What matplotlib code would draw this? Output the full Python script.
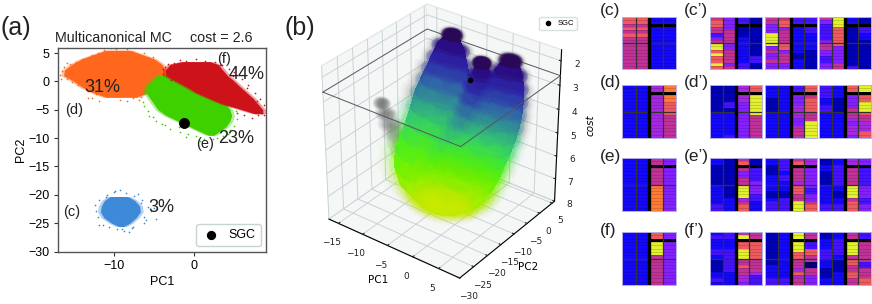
import numpy as np
import matplotlib
matplotlib.use("Agg")
import matplotlib.pyplot as plt
from matplotlib.colors import ListedColormap, LinearSegmentedColormap

plt.rcParams['font.family'] = ['Liberation Sans', 'DejaVu Sans']

W, H = 872, 304

# panel (a): cluster extents, PC2 level -> PC1 from/to
blue_y = [-20.3, -21.0, -22.0, -23.0, -24.0, -25.0, -25.6]
blue_x0 = [-10.5, -11.2, -11.6, -11.7, -11.3, -10.3, -9.4]
blue_x1 = [-8.3, -7.4, -6.8, -6.7, -7.2, -8.0, -8.8]
orange_y = [5.5, 5.0, 4.0, 3.0, 2.0, 1.0, 0.0, -1.0, -2.0, -2.8]
orange_x0 = [-11.0, -12.0, -14.0, -15.3, -16.2, -16.3, -15.0, -14.0, -12.6, -11.0]
orange_x1 = [-8.0, -7.0, -5.0, -4.0, -3.6, -3.4, -3.5, -4.5, -5.8, -7.2]
green_y = [1.2, 0.0, -1.0, -2.0, -3.0, -4.0, -5.0, -6.0, -7.0, -8.0, -9.0, -9.5]
green_x0 = [-4.5, -5.3, -6.0, -6.0, -5.5, -5.0, -4.5, -3.5, -2.0, -0.5, 1.0, 1.8]
green_x1 = [-2.5, -0.5, 1.0, 2.0, 3.0, 4.0, 4.5, 4.7, 4.5, 4.0, 3.0, 2.5]
red_y = [3.5, 3.0, 2.0, 1.0, 0.2, -1.0, -2.0, -3.0, -4.0, -5.0, -5.7]
red_x0 = [-1.5, -3.0, -3.6, -3.5, -2.5, -0.9, 0.3, 1.9, 3.6, 6.0, 7.6]
red_x1 = [2.0, 3.0, 3.6, 4.2, 4.9, 5.8, 6.6, 7.4, 8.0, 8.6, 8.6]

# stray points around the clusters
blue_sx = [-12.4, -12.2, -11.9, -11.0, -10.0, -9.2, -8.5, -7.5, -6.5, -5.8, -5.0, -4.7, -6.2, -7.6, -8.8, -9.6, -10.6, -12.0, -11.4, -8.1, -7.0, -9.9, -6.2, -5.4, -11.9, -10.9, -9.0, -7.8, -6.6, -6.0]
blue_sy = [-21.8, -22.8, -25.3, -20.4, -19.5, -19.1, -19.6, -20.2, -20.9, -22.1, -22.3, -24.3, -24.9, -25.6, -26.4, -26.1, -25.7, -24.0, -25.4, -26.6, -19.8, -19.3, -23.9, -22.9, -20.9, -20.0, -26.0, -25.9, -21.5, -24.4]
orange_sx = [-16.7, -16.2, -15.5, -14.8, -13.9, -12.8, -12.0, -11.2, -9.7, -8.4, -7.6, -6.2, -5.1, -4.4, -13.2, -12.2, -10.7, -9.2, -8.4, -7.6, -6.6, -15.9, -15.2, -12.7, -6.9, -16.6, -16.5, -15.9, -14.5, -13.2, -11.9, -10.4]
orange_sy = [1.2, 2.5, 3.0, 3.4, 3.9, 4.6, 5.0, 5.6, 5.7, 5.7, 5.2, 5.0, 4.4, 3.1, -1.6, -2.2, -2.6, -3.2, -3.5, -3.0, -2.8, 0.5, -0.1, -2.9, -3.3, 0.4, 1.9, 3.2, -0.6, -2.9, -3.4, 5.9]
green_sx = [-6.4, -6.2, -6.3, -5.8, -5.1, -4.0, -3.0, -1.8, -0.8, 0.2, 1.2, 2.4, 3.6, 4.5, 5.0, 5.4, 5.3, 4.9, -3.4, -4.4, -2.3, -1.0, 0.7, -5.0, -6.0, 4.2, -5.6, -4.7, -3.6, -1.9, 2.9, 3.9, 5.0]
green_sy = [-3.6, -4.4, -2.1, -5.3, -6.2, -7.5, -8.4, -8.9, -9.2, -9.6, -10.2, -10.1, -9.7, -8.6, -7.9, -6.6, -5.3, -4.4, 2.1, 0.9, 1.3, -9.8, -10.5, -0.7, -0.2, -9.2, -6.1, -6.9, -7.7, -8.1, -9.9, -8.7, -3.9]
red_sx = [-3.6, -3.2, -2.5, -1.8, -1.0, 0.3, 1.4, 2.6, 3.5, 4.4, 5.0, 6.0, 6.8, 7.6, 8.3, 8.8, 8.5, 8.0, 7.2, 6.3, 5.4, -3.9, -2.9, 8.7, -3.9, -2.9, 3.2, 4.9, 6.6, 7.9]
red_sy = [2.6, 3.0, 3.3, 3.8, 3.6, 3.9, 3.6, 3.4, 2.9, 2.2, 1.7, 0.5, -0.6, -2.0, -3.1, -4.2, -5.6, -6.0, -6.4, -5.9, -5.5, 1.4, 0.2, -5.9, 2.2, 2.9, 2.9, 0.9, -1.2, -3.4]

sgc_pc1 = -1.3
sgc_pc2 = -7.3
sgc_cost = 2.6

# panel (b): lobes of the cloud, by cost level
cost_levels = [2.0, 2.5, 3.0, 3.5, 4.0, 4.5, 5.0, 5.5, 6.0, 6.5, 7.0, 7.5, 7.9]
orange_cx = [-9.5, -9.5, -9.5, -9.5, -9.5, -9.5, -9.3, -9.0, -8.8, -8.5, -8.0, -7.0, -6.0]
orange_cy = [1.5, 1.0, 0.5, 0.0, -0.5, -1.5, -2.5, -3.5, -4.5, -6.0, -7.0, -8.0, -9.0]
orange_rx = [1.0, 2.6, 3.4, 4.2, 5.0, 5.6, 6.0, 6.5, 7.0, 7.5, 7.7, 7.3, 5.5]
orange_ry = [1.0, 1.6, 2.0, 2.5, 3.0, 3.5, 4.2, 5.0, 6.0, 7.0, 7.6, 7.0, 5.0]
red_cx = [2.8, 2.6, 2.5, 2.3, 2.0, 1.5, 0.8, 0.0, -1.0, -2.0, -3.0, -4.0, -5.0]
red_cy = [-0.5, -0.7, -1.0, -1.5, -2.0, -2.5, -3.0, -4.0, -5.0, -6.0, -7.0, -8.0, -9.0]
red_rx = [1.2, 2.4, 2.9, 3.3, 3.6, 3.9, 4.2, 4.6, 5.0, 5.5, 5.8, 5.6, 4.0]
red_ry = [1.2, 2.0, 2.4, 2.8, 3.2, 3.6, 4.0, 4.5, 5.2, 6.0, 6.6, 6.2, 4.0]
green_cx = [-0.3, -0.3, -0.4, -0.5, -0.7, -1.0, -1.5, -2.0, -2.7, -3.5, -4.0, -4.5, -5.0]
green_cy = [-5.0, -5.0, -5.2, -5.5, -6.0, -6.5, -7.0, -7.5, -8.0, -8.5, -9.0, -9.5, -10.0]
green_rx = [0.8, 1.6, 2.2, 2.7, 3.2, 3.7, 4.2, 4.8, 5.4, 6.0, 6.6, 6.3, 4.5]
green_ry = [0.8, 1.6, 2.2, 2.7, 3.2, 3.8, 4.4, 5.0, 5.8, 6.6, 7.4, 7.0, 5.0]
finger_cost = [3.0, 3.5, 4.0, 4.5, 5.0, 5.5, 6.0]
finger_cx = [-9.6, -9.4, -9.1, -8.8, -8.4, -8.0, -7.5]
finger_cy = [-23.0, -22.0, -21.0, -19.5, -18.0, -16.5, -15.0]
finger_r = [0.7, 1.1, 1.4, 1.8, 2.2, 2.6, 3.0]

# panels (c)-(f'): cell levels, one string per column, top to bottom, '#' = black
panels = {
    "c": ["7767676666666666", "7767676666666666", "22#2222222222222", "22#2222222222222"],
    "c1": ["6776634699797797", "4444666644666646", "33#1112222222233", "11#1111111113311"],
    "c2": ["6644499994644644", "6774666677466644", "33#2222222211222", "33#3322222111111"],
    "c3": ["6433333466443344", "9997777774444466", "22#1111111111113", "11#3322111111111"],
    "d": ["2222222222222222", "2222222222222222", "55#5555555555555", "88#8877776666666"],
    "d1": ["1111111122222222", "1111133122222223", "55#5544444444444", "77#9999996666666"],
    "d2": ["2222111122222222", "2222222222222222", "33#4445555445666", "77#6777766699999"],
    "d3": ["3333223322222222", "2222111122222222", "77#4444666545554", "99#7799976655577"],
    "e": ["2222222222222222", "2222222222222222", "66#6666688888888", "44#4444444444444"],
    "e1": ["2211111122222233", "1111111111112222", "67#6446699995677", "11#3333444433222"],
    "e2": ["2211122222112333", "3333233222113333", "67#6666577766999", "55#4444443344677"],
    "e3": ["1122111122222233", "2233333322112233", "55#6666699996777", "44#3333344443344"],
    "f": ["2222222222222222", "2222222222222222", "77#9999666666666", "44#4444444444444"],
    "f1": ["2322233211112232", "3322233333332222", "69#7799966766554", "66#7777766665333"],
    "f2": ["1111111111222233", "2222222222222233", "99#9997766657566", "66#3377660066444"],
    "f3": ["1122233322211122", "2233333211112222", "66#9999677667766", "33#6666663366677"],
}
panel_labels = ["(c)", "(c’)", "(d)", "(d’)", "(e)", "(e’)", "(f)", "(f’)"]

level_colors = ["#00007a", "#0000b8", "#1408fa", "#4412ff", "#8420ff", "#a428e0",
                "#c03298", "#ee5a60", "#ff7a35", "#e2f02e"]
cost_colors = ["#2a0858", "#2c1aa0", "#3038b0", "#3070a8", "#30a090", "#38d870",
               "#48ee28", "#68f400", "#a8f000", "#d8e800"]


def px_axes(x0, y0, x1, y1, **kw):
    return fig.add_axes([x0 / W, 1 - y1 / H, (x1 - x0) / W, (y1 - y0) / H], **kw)


def px_text(x, y, s, **kw):
    fig.text(x / W, 1 - y / H, s, va="center", **kw)


fig = plt.figure(figsize=(W / 100, H / 100), dpi=100)

# (b) goes first, its axes box overlaps the neighbours
ax3 = fig.add_axes([300 / W, 1 - 279 / H, 278 / W, 278 / H], projection="3d", computed_zorder=False)
ax3.patch.set_alpha(0)
ax3.view_init(elev=31.5, azim=-53)
ax3.set_box_aspect((4, 4, 4.3), zoom=1.03)
ax3.set_xlim(-17, 9)
ax3.set_ylim(-30, 6)
ax3.set_zlim(8, 1.55)
cmap = LinearSegmentedColormap.from_list("cost", cost_colors)
theta = np.linspace(0, 2 * np.pi, 33)


def lobe(costs, cx, cy, rx, ry):
    z = np.array(costs)[:, None] * np.ones_like(theta)
    xs = np.array(cx)[:, None] + np.array(rx)[:, None] * np.cos(theta)
    ys = np.array(cy)[:, None] + np.array(ry)[:, None] * np.sin(theta)
    ax3.plot_surface(xs, ys, z, facecolors=cmap((z - 2.0) / 6.0), shade=False, rstride=1, cstride=1,
                     linewidth=0, antialiased=False, zorder=2)


def soft_rings(costs, cx, cy, rx, ry, scale, alpha, size, zorder, grey_above=5.0):
    z = np.array(costs)[:, None] * np.ones_like(theta)
    xs = np.array(cx)[:, None] + scale * np.array(rx)[:, None] * np.cos(theta)
    ys = np.array(cy)[:, None] + scale * np.array(ry)[:, None] * np.sin(theta)
    cols = cmap((z.ravel() - 2.0) / 6.0)
    cols[z.ravel() < grey_above, :3] = 0.5
    cols[:, 3] = alpha
    ax3.scatter(xs.ravel(), ys.ravel(), z.ravel(), s=size, c=cols, lw=0, depthshade=False, zorder=zorder)


soft_rings(finger_cost, finger_cx, finger_cy, finger_r, finger_r, 1.0, 0.03, 60, 1, grey_above=9)
soft_rings(finger_cost, finger_cx, finger_cy, finger_r, finger_r, 0.5, 0.03, 60, 1, grey_above=9)
for lb in [(cost_levels, orange_cx, orange_cy, orange_rx, orange_ry),
           (cost_levels, red_cx, red_cy, red_rx, red_ry),
           (cost_levels, green_cx, green_cy, green_rx, green_ry)]:
    soft_rings(*lb, 1.25, 0.02, 110, 1)
    soft_rings(*lb, 1.12, 0.04, 90, 1)
    lobe(*lb)
for lb in [(cost_levels, orange_cx, orange_cy, orange_rx, orange_ry),
           (cost_levels, green_cx, green_cy, green_rx, green_ry),
           (cost_levels, red_cx, red_cy, red_rx, red_ry)]:
    soft_rings(*lb, 1.0, 0.1, 70, 3, grey_above=0)
    soft_rings(*lb, 0.75, 0.12, 70, 3, grey_above=0)
    soft_rings(*lb, 0.45, 0.12, 70, 3, grey_above=0)

back_x = [-17, -17, 9]
back_y = [-30, 6, 6]
front_x = [9, 9, -17]
front_y = [6, -30, -30]
ax3.plot(back_x, back_y, [sgc_cost] * 3, color="#555560", lw=0.7, zorder=0.5)
ax3.plot(front_x, front_y, [sgc_cost] * 3, color="#555560", lw=0.7, zorder=5)
ax3.scatter([sgc_pc1], [sgc_pc2], [sgc_cost], s=9, color="black", depthshade=False, zorder=6, label="SGC")
ax3.set_xticks([-15, -10, -5, 0, 5])
ax3.set_yticks([-30, -25, -20, -15, -10, -5, 0, 5])
ax3.set_zticks([2, 3, 4, 5, 6, 7, 8])
for a in (ax3.xaxis, ax3.yaxis, ax3.zaxis):
    a.set_pane_color((0.96, 0.97, 0.97, 1))
    a.pane.set_edgecolor("#e4e8e8")
    a._axinfo["grid"]["color"] = "#c9d2d6"
    a._axinfo["grid"]["linewidth"] = 0.7
    a._axinfo["tick"]["inward_factor"] = 0
    a._axinfo["tick"]["outward_factor"] = 0.15
ax3.tick_params(labelsize=6.5, pad=-1, colors="#222222")
for lab in ax3.get_xticklabels() + ax3.get_yticklabels() + ax3.get_zticklabels():
    lab.set_fontfamily("DejaVu Sans")
ax3.set_xlabel("PC1", fontsize=7.5, labelpad=-6, fontfamily="DejaVu Sans")
ax3.set_ylabel("PC2", fontsize=7.5, labelpad=-6, fontfamily="DejaVu Sans")
ax3.zaxis.set_rotate_label(False)
ax3.set_zlabel("cost", fontsize=7.5, labelpad=-6, fontfamily="DejaVu Sans", fontstyle="italic", rotation=90)
ax3.legend(loc="upper right", bbox_to_anchor=(577 / W, 1 - 17 / H), bbox_transform=fig.transFigure,
           fontsize=5.5, borderpad=0.4, handletextpad=0.6, handlelength=1.4, borderaxespad=0,
           edgecolor="#d8e0e0", framealpha=1)

# (a)
ax = px_axes(58, 48, 266, 251.5)
for ys, x0s, x1s, sx, sy, col in [
    (blue_y, blue_x0, blue_x1, blue_sx, blue_sy, "#3f8ad8"),
    (orange_y, orange_x0, orange_x1, orange_sx, orange_sy, "#ff671c"),
    (green_y, green_x0, green_x1, green_sx, green_sy, "#3fd000"),
    (red_y, red_x0, red_x1, red_sx, red_sy, "#cd1219"),
]:
    # lighter fringe stands in for the thinning dots at the rim
    ax.fill_betweenx(ys, np.array(x0s) - 0.35, np.array(x1s) + 0.35, color=col, lw=0, alpha=0.4)
    ax.fill_betweenx(ys, x0s, x1s, color=col, lw=0)
    ax.scatter(sx, sy, s=1.5, color=col, lw=0)
ax.scatter([sgc_pc1], [sgc_pc2], s=62, color="black", zorder=5, lw=0, label="SGC")
ax.set_xlim(-17, 9)
ax.set_ylim(-30, 5.9)
ax.set_xticks([-10, 0])
ax.set_yticks([5, 0, -5, -10, -15, -20, -25, -30])
ax.tick_params(labelsize=9, length=3, width=0.8, color="#333333", pad=3)
ax.set_xlabel("PC1", fontsize=9, labelpad=3)
ax.set_ylabel("PC2", fontsize=9, labelpad=1)
for s in ax.spines.values():
    s.set_color("#555555")
    s.set_linewidth(1)
ax.legend(loc="lower right", fontsize=9, bbox_to_anchor=(0.975, 0.025), borderaxespad=0, borderpad=0.4,
          handletextpad=0.6, handlelength=1.6, markerscale=0.85, edgecolor="#c8d4d4", framealpha=1)
for x, y, s, fs in [(-15, -5, "(d)", 10.5), (-15.3, -23, "(c)", 10.5), (3.8, 4, "(f)", 10.5), (1.4, -11, "(e)", 10.5),
                    (-11.4, -1, "31%", 13), (6.6, 1.3, "44%", 13), (5.3, -10, "23%", 13), (-4.1, -22.3, "3%", 13)]:
    ax.text(x, y, s, fontsize=fs, ha="center", va="center", color="#222222", zorder=6)
px_text(1, 28, "(a)", fontsize=18, color="#222222")
px_text(55, 37.5, "Multicanonical MC", fontsize=10.3, color="#222222")
px_text(190, 37.5, "cost = 2.6", fontsize=10.3, color="#222222")
px_text(284, 28, "(b)", fontsize=18, color="#222222")

# (c)-(f')
level_cmap = ListedColormap(level_colors)
level_cmap.set_bad("black")
row_tops = [(17, 69), (85, 138), (158, 211), (232, 285)]
col_boxes = [(622, 676), (710, 762), (764.5, 817), (819, 871)]
keys = ["c", "d", "e", "f"]
for (y0, y1), key in zip(row_tops, keys):
    for j, (x0, x1) in enumerate(col_boxes):
        name = key if j == 0 else f"{key}{j}"
        cells = np.array([[np.nan if ch == "#" else int(ch) for ch in col] for col in panels[name]]).T
        a = px_axes(x0, y0, x1, y1)
        a.pcolormesh(cells, cmap=level_cmap, vmin=-0.5, vmax=9.5)
        a.set_ylim(16, 0)
        a.set_xticks([])
        a.set_yticks([])
        a.hlines(np.arange(1, 16), 0, 4, color="black", lw=0.4, alpha=0.25)
        a.hlines(8, 0, 4, color="#333333", lw=0.9)
        a.vlines([1, 3], 0, 16, color="#333333", lw=0.9)
        a.vlines(2, 0, 16, color="black", lw=2.4)
        for s in a.spines.values():
            s.set_color("#b4aee8")
            s.set_linewidth(0.7)

for lab, (x, y) in zip(panel_labels, [(600, 11), (684, 11), (600, 83), (684, 83),
                                      (600, 156), (684, 156), (600, 231), (684, 231)]):
    px_text(x, y, lab, fontsize=12.5, color="#222222")

fig.savefig("out.png", dpi=100)
